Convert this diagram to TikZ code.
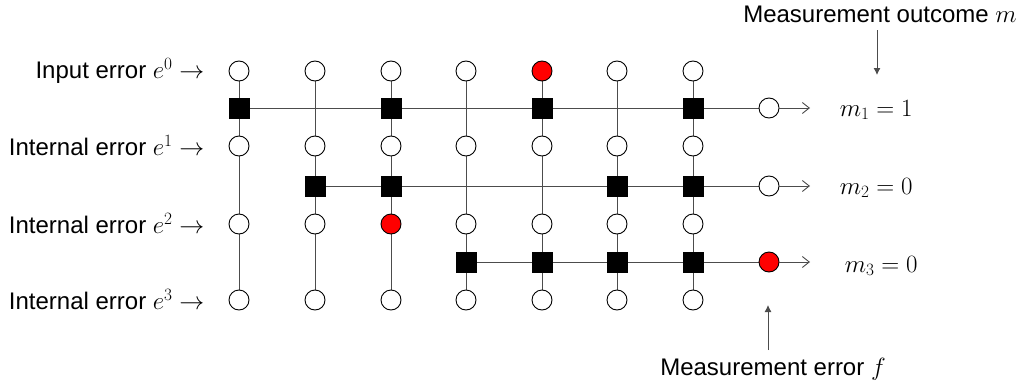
\documentclass[tikz,border=0pt]{standalone}
\usepackage{fontspec}
\setmainfont{Liberation Sans}
\usetikzlibrary{arrows.meta, backgrounds, positioning}
\definecolor{errred}{rgb}{1,0,0}
\definecolor{wire}{gray}{0.3}

\begin{document}
\begin{tikzpicture}[x=1pt,y=-1pt,line width=0.9pt,
                    font=\fontsize{24}{28}\selectfont]
  \tikzstyle{qubit}=[circle,draw=black,fill=white,minimum size=20pt,inner sep=0pt]
  \tikzstyle{check}=[rectangle,draw=black,fill=black,minimum size=20pt,inner sep=0pt]
  \tikzstyle{wire}=[draw=wire]
  \tikzset{err-5-0/.style={fill=errred}, err-3-2/.style={fill=errred}}
  \useasboundingbox (0,0) rectangle (1025,388);

  % data qubits, one column per time step
  \foreach \x [count=\i] in {239,315,391,466,542,617,693}
    \foreach \y [count=\j from 0] in {71,146,224,300}
      \node[qubit,err-\i-\j/.try] (c-\i-\j) at (\x,\y) {};

  % parity checks
  \foreach \i/\j/\y in {1/1/108,3/1/108,5/1/108,7/1/108,
                        2/2/186,3/2/186,6/2/186,7/2/186,
                        4/3/262,5/3/262,6/3/262,7/3/262}
    \node[check] (s-\i-\j) at (c-\i-0 |- 0,\y) {};

  % measured ancillas
  \node[qubit]             (m-1) at (769,108) {};
  \node[qubit]             (m-2) at (769,186) {};
  \node[qubit,fill=errred] (m-3) at (769,262) {};
  \coordinate (o-1) at (810,108);
  \coordinate (o-2) at (810,186);
  \coordinate (o-3) at (810,262);

  \begin{scope}[on background layer]
    \foreach \i in {1,...,7}
      \draw[wire] (c-\i-0) -- (c-\i-3);
    \draw[wire] (s-1-1) -- (m-1);
    \draw[wire] (s-2-2) -- (m-2);
    \draw[wire] (s-4-3) -- (m-3);
  \end{scope}
  \foreach \j in {1,2,3}
    \draw[wire,-{Straight Barb[length=7pt,width=11pt]}] (m-\j) -- (o-\j);

  % row labels
  \node[anchor=east] (l-0) at (208,71)  {Input error $e^0$ $\rightarrow$};
  \node[anchor=east] (l-1) at (208,146) {Internal error $e^1$ $\rightarrow$};
  \node[anchor=east] (l-2) at (208,224) {Internal error $e^2$ $\rightarrow$};
  \node[anchor=east] (l-3) at (208,300) {Internal error $e^3$ $\rightarrow$};

  % outcomes
  \node[anchor=west] (r-1) at (836,110) {$m_1 = 1$};
  \node[anchor=west] (r-2) at (836,188) {$m_2 = 0$};
  \node[anchor=west] (r-3) at (841,266) {$m_3 = 0$};

  \node (outcome) at (880,14) {Measurement outcome $m$};
  \coordinate (outtip) at (877,75);
  \draw[wire,-{Latex[length=7pt,width=7pt]},shorten <=4pt] (outcome.south -| outtip) -- (outtip);

  \node (merr) at (773,369) {Measurement error $f$};
  \coordinate (errtip) at (768,305);
  \draw[wire,-{Latex[length=7pt,width=7pt]},shorten <=4pt] (merr.north -| errtip) -- (errtip);
\end{tikzpicture}
\end{document}
